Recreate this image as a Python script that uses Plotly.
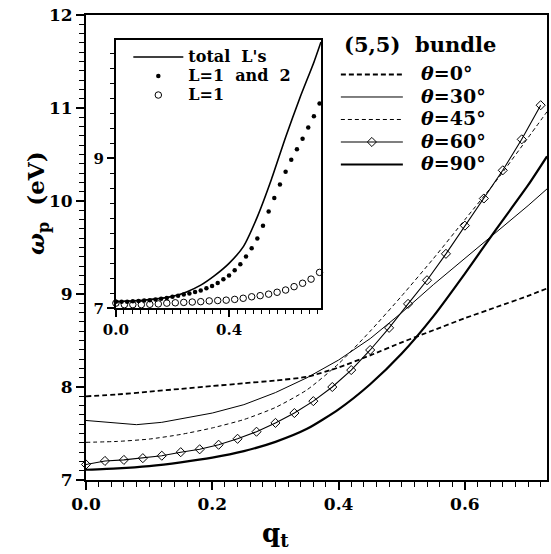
import plotly.graph_objects as go

# ---------------- data ----------------
q_main = [0, 0.05, 0.1, 0.15, 0.2, 0.25, 0.3, 0.35, 0.4, 0.45, 0.5, 0.55, 0.6, 0.65, 0.7, 0.73]
w_theta0 = [7.90, 7.92, 7.95, 7.98, 8.01, 8.04, 8.07, 8.11, 8.21, 8.34, 8.48, 8.61, 8.74, 8.86, 8.98, 9.06]
w_theta45 = [7.405, 7.415, 7.44, 7.49, 7.56, 7.65, 7.78, 7.97, 8.25, 8.60, 8.98, 9.38, 9.80, 10.22, 10.68, 10.96]
w_theta90 = [7.11, 7.125, 7.15, 7.19, 7.24, 7.31, 7.41, 7.55, 7.76, 8.03, 8.36, 8.76, 9.22, 9.70, 10.17, 10.48]

q_theta30 = [0, 0.04, 0.08, 0.12, 0.16, 0.2, 0.25, 0.3, 0.35, 0.4, 0.45, 0.5, 0.55, 0.6, 0.65, 0.7, 0.73]
w_theta30 = [7.64, 7.62, 7.595, 7.62, 7.67, 7.72, 7.81, 7.94, 8.10, 8.29, 8.52, 8.80, 9.10, 9.38, 9.66, 9.95, 10.13]

q_theta60 = [0.00, 0.03, 0.06, 0.09, 0.12, 0.15, 0.18, 0.21, 0.24, 0.27, 0.30, 0.33, 0.36,
             0.39, 0.42, 0.45, 0.48, 0.51, 0.54, 0.57, 0.60, 0.63, 0.66, 0.69, 0.72]
w_theta60 = [7.167, 7.205, 7.216, 7.235, 7.261, 7.299, 7.330, 7.379, 7.443, 7.519, 7.614, 7.720, 7.848,
             8.000, 8.182, 8.398, 8.636, 8.894, 9.148, 9.432, 9.735, 10.027, 10.330, 10.663, 11.030]

# inset
q_total = [0, 0.1, 0.2, 0.25, 0.3, 0.35, 0.4, 0.45, 0.5, 0.55, 0.6, 0.65, 0.7, 0.725]
w_total = [7.09, 7.11, 7.16, 7.22, 7.31, 7.44, 7.60, 7.82, 8.22, 8.72, 9.28, 9.80, 10.28, 10.55]

q_L12 = [0.00, 0.02, 0.04, 0.06, 0.08, 0.10, 0.12, 0.14, 0.16, 0.18, 0.20, 0.22, 0.24, 0.26, 0.28, 0.30,
         0.32, 0.34, 0.36, 0.38, 0.40, 0.42, 0.44, 0.46, 0.48, 0.50, 0.52, 0.54, 0.56, 0.58, 0.60,
         0.62, 0.64, 0.66, 0.68, 0.70, 0.72]
w_L12 = [7.09, 7.09, 7.09, 7.095, 7.10, 7.105, 7.11, 7.12, 7.13, 7.14, 7.155, 7.17, 7.185, 7.20, 7.22, 7.24,
         7.27, 7.30, 7.34, 7.39, 7.44, 7.51, 7.59, 7.69, 7.80, 7.93, 8.10, 8.29, 8.47, 8.65, 8.82,
         8.98, 9.12, 9.26, 9.41, 9.56, 9.73]

q_L1 = [0.00, 0.03, 0.06, 0.09, 0.12, 0.15, 0.18, 0.21, 0.24, 0.27, 0.30, 0.33, 0.36,
        0.39, 0.42, 0.45, 0.48, 0.51, 0.54, 0.57, 0.60, 0.63, 0.66, 0.69, 0.72]
w_L1 = [7.07, 7.05, 7.05, 7.05, 7.055, 7.06, 7.07, 7.075, 7.08, 7.085, 7.09, 7.10, 7.105,
        7.11, 7.12, 7.135, 7.155, 7.17, 7.19, 7.215, 7.245, 7.29, 7.335, 7.39, 7.48]

main_labels = ["<i>θ</i>=0°", "<i>θ</i>=30°", "<i>θ</i>=45°", "<i>θ</i>=60°", "<i>θ</i>=90°"]
inset_labels = ["total\u00a0\u00a0L's", "L=1\u00a0\u00a0and\u00a0\u00a02", "L=1"]
legend_title = "(5,5)\u00a0\u00a0bundle"

# ---------------- figure ----------------
SERIF = "DejaVu Serif"


def big(txt, px, lead=""):
    return '<span style="font-size:%dpx">%s%s</span>' % (px, lead, txt)


fig = go.Figure()

LEAD = "\u00a0\u00a0"
fig.add_trace(go.Scatter(x=q_main, y=w_theta0, mode="lines", name=big(main_labels[0], 19, LEAD), legend="legend",
                         line=dict(color="black", width=1.8, dash="5px,3px", shape="spline", smoothing=0.6)))
fig.add_trace(go.Scatter(x=q_theta30, y=w_theta30, mode="lines", name=big(main_labels[1], 19, LEAD), legend="legend",
                         line=dict(color="black", width=1.0)))
fig.add_trace(go.Scatter(x=q_main, y=w_theta45, mode="lines", name=big(main_labels[2], 19, LEAD), legend="legend",
                         line=dict(color="black", width=1.0, dash="4px,3px", shape="spline", smoothing=0.6)))
fig.add_trace(go.Scatter(x=q_theta60, y=w_theta60, mode="lines+markers", name=big(main_labels[3], 19, LEAD),
                         legend="legend", line=dict(color="black", width=1.1),
                         marker=dict(symbol="diamond-open", size=7, color="black", line=dict(width=1)),
                         cliponaxis=False))
fig.add_trace(go.Scatter(x=q_main, y=w_theta90, mode="lines", name=big(main_labels[4], 19, LEAD), legend="legend",
                         line=dict(color="black", width=2.2, shape="spline", smoothing=0.6)))

# inset traces
fig.add_trace(go.Scatter(x=q_total, y=w_total, mode="lines", name=big(inset_labels[0], 16), legend="legend2",
                         xaxis="x2", yaxis="y2",
                         line=dict(color="black", width=1.6, shape="spline", smoothing=0.6)))
fig.add_trace(go.Scatter(x=q_L12, y=w_L12, mode="markers", name=big(inset_labels[1], 16), legend="legend2",
                         xaxis="x2", yaxis="y2", cliponaxis=False,
                         marker=dict(symbol="circle", size=4.5, color="black")))
fig.add_trace(go.Scatter(x=q_L1, y=w_L1, mode="markers", name=big(inset_labels[2], 16), legend="legend2",
                         xaxis="x2", yaxis="y2", cliponaxis=False,
                         marker=dict(symbol="circle-open", size=6.5, color="black", line=dict(width=1))))

tickfont_main = dict(family=SERIF, size=17, color="black", weight="bold")
tickfont_inset = dict(family=SERIF, size=15, color="black", weight="bold")

fig.update_layout(
    width=551, height=554,
    margin=dict(l=86, r=2, t=15, b=74),
    paper_bgcolor="white", plot_bgcolor="white",
    xaxis=dict(domain=[0, 1], range=[0, 0.73], tick0=0, dtick=0.2, tickformat=".1f",
               showgrid=False, zeroline=False, showline=True, linewidth=2, linecolor="black",
               mirror=True, ticks="outside", ticklen=8, tickwidth=1.5, tickcolor="black",
               tickfont=tickfont_main, ticklabeloverflow="allow",
               minor=dict(dtick=0.02, ticks="outside", ticklen=5, tickwidth=1.2, tickcolor="black")),
    yaxis=dict(domain=[0, 1], range=[7, 12], tick0=7, dtick=1,
               showgrid=False, zeroline=False, showline=True, linewidth=2, linecolor="black",
               mirror=True, ticks="outside", ticklen=8, tickwidth=1.5, tickcolor="black",
               tickfont=tickfont_main, ticklabeloverflow="allow",
               minor=dict(dtick=0.1, ticks="outside", ticklen=5, tickwidth=1.2, tickcolor="black")),
    xaxis2=dict(domain=[0.0648, 0.5097], anchor="y2", range=[0, 0.725], tick0=0, dtick=0.4,
                tickformat=".1f", showgrid=False, zeroline=False, showline=True, linewidth=2,
                linecolor="black", mirror=True, ticks="outside", ticklen=7, tickwidth=1.5,
                tickcolor="black", tickfont=tickfont_inset,
                minor=dict(dtick=0.4 / 14, ticks="outside", ticklen=4, tickwidth=1.2, tickcolor="black")),
    yaxis2=dict(domain=[0.369, 0.947], anchor="x2", range=[7, 10.58], tick0=7, dtick=2,
                showgrid=False, zeroline=False, showline=True, linewidth=2, linecolor="black",
                mirror=True, ticks="outside", ticklen=7, tickwidth=1.5, tickcolor="black",
                tickfont=tickfont_inset,
                minor=dict(dtick=0.2, ticks="outside", ticklen=4, tickwidth=1.2, tickcolor="black")),
    legend=dict(x=0.542, y=0.907, xanchor="left", yanchor="top", bgcolor="rgba(0,0,0,0)",
                itemwidth=62, tracegroupgap=0,
                font=dict(family=SERIF, size=15, color="black", weight="bold")),
    legend2=dict(x=0.0918, y=0.9408, xanchor="left", yanchor="top", bgcolor="rgba(0,0,0,0)",
                 itemwidth=50, tracegroupgap=0,
                 font=dict(family=SERIF, size=11.5, color="black", weight="bold")),
    showlegend=True,
)

fig.add_annotation(text=legend_title, xref="paper", yref="paper", x=0.555, y=0.9364,
                   xanchor="left", yanchor="middle", showarrow=False,
                   font=dict(family=SERIF, size=21, color="black", weight="bold"))
fig.add_annotation(text="<i>ω</i><sub>p</sub>\u00a0\u00a0(eV)", xref="paper", yref="paper",
                   x=-0.105, y=0.595, xanchor="center", yanchor="middle", textangle=-90, showarrow=False,
                   font=dict(family=SERIF, size=23, color="black", weight="bold"))
fig.add_annotation(text="q<sub>t</sub>", xref="paper", yref="paper",
                   x=0.4115, y=-0.117, xanchor="center", yanchor="middle", showarrow=False,
                   font=dict(family=SERIF, size=26, color="black", weight="bold"))

fig.write_html(
    "out.html",
    config={"displayModeBar": False},
    post_script=("document.body.style.margin='0px';"
                 "document.body.style.overflow='hidden';"
                 "document.documentElement.style.overflow='hidden';"),
)
